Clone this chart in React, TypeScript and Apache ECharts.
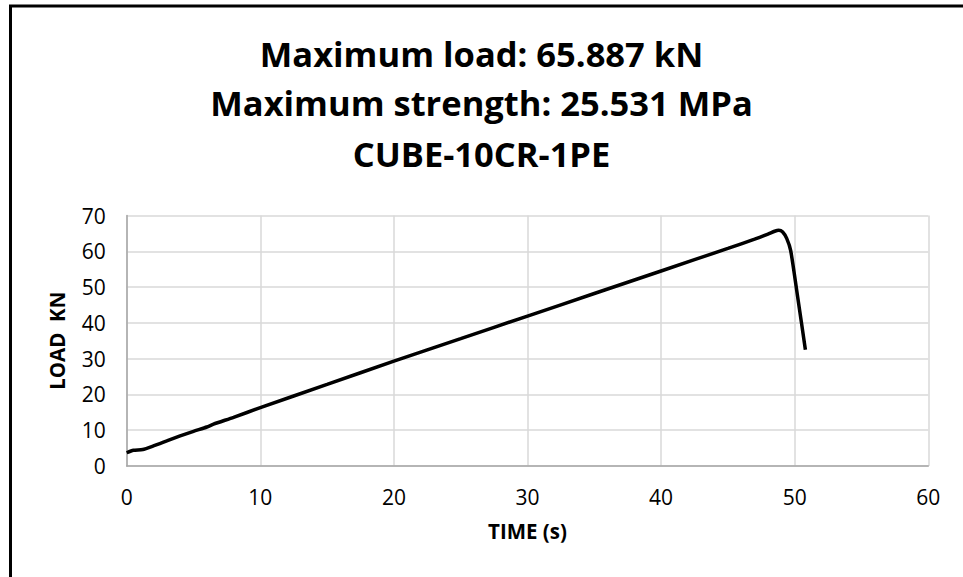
import React, { useEffect, useRef } from "react";
import * as echarts from "echarts";

const titleLines = [
  "Maximum load: 65.887 kN",
  "Maximum strength: 25.531 MPa",
  "CUBE-10CR-1PE",
];
const xAxisName = "TIME (s)";
const yAxisName = "LOAD  KN";

const timeValues = [0, 0.5, 1.2, 2, 3, 4, 5, 6, 6.5, 8, 10, 15, 20, 25, 30, 35, 40, 45, 47, 48, 48.5, 48.8, 49.1, 49.4, 49.7, 50.2, 50.8];
const loadValues = [3.7, 4.4, 4.6, 5.6, 7.0, 8.4, 9.7, 10.9, 11.7, 13.6, 16.3, 22.8, 29.3, 35.6, 41.9, 48.2, 54.5, 60.8, 63.4, 64.8, 65.6, 65.887, 65.4, 63.6, 60.2, 47.8, 32.5];

const FONT = "Open Sans";

export default function App() {
  const ref = useRef<HTMLDivElement>(null);
  useEffect(() => {
    if (!ref.current) return;
    const chart = echarts.init(ref.current, undefined, { renderer: "svg" });
    const titleCenters = [53, 102, 153];
    chart.setOption({
      animation: false,
      backgroundColor: "#ffffff",
      title: titleLines.map((t, i) => ({
        text: t,
        left: "center",
        top: titleCenters[i] - 21,
        padding: 0,
        textStyle: {
          fontFamily: FONT,
          fontWeight: "bold",
          fontSize: 34.5,
          lineHeight: 42,
          color: "#000",
        },
      })),
      graphic: [
        {
          type: "rect",
          shape: { x: 10.5, y: 6, width: 1000, height: 1000 },
          style: { fill: "none", stroke: "#000", lineWidth: 3 },
          silent: true,
        },
      ],
      grid: { left: 126.7, right: 34.7, top: 215.5, bottom: 111, containLabel: false },
      xAxis: {
        type: "value",
        min: 0,
        max: 60,
        interval: 10,
        name: xAxisName,
        nameLocation: "middle",
        nameGap: 54,
        nameTextStyle: { fontFamily: FONT, fontWeight: "bold", fontSize: 20.5, color: "#000" },
        axisLine: { show: true, lineStyle: { color: "#a6a6a6", width: 1.5 } },
        axisTick: { show: false },
        axisLabel: { fontFamily: FONT, fontSize: 21, color: "#000", margin: 20 },
        splitLine: { show: true, lineStyle: { color: "#d9d9d9", width: 1.5 } },
      },
      yAxis: {
        type: "value",
        min: 0,
        max: 70,
        interval: 10,
        name: yAxisName,
        nameLocation: "middle",
        nameRotate: 90,
        nameGap: 59,
        nameTextStyle: { fontFamily: FONT, fontWeight: "bold", fontSize: 20.5, color: "#000" },
        axisLine: { show: true, lineStyle: { color: "#a6a6a6", width: 1.5 } },
        axisTick: { show: false },
        axisLabel: { fontFamily: FONT, fontSize: 21, color: "#000", margin: 21 },
        splitLine: { show: true, lineStyle: { color: "#d9d9d9", width: 1.5 } },
      },
      series: [
        {
          type: "line",
          data: timeValues.map((t, i) => [t, loadValues[i]]),
          showSymbol: false,
          smooth: 0.2,
          lineStyle: { color: "#000", width: 3.5 },
        },
      ],
    });
    return () => chart.dispose();
  }, []);
  return (
    <div
      ref={ref}
      style={{ position: "fixed", left: 0, top: 0, width: 963, height: 577 }}
    />
  );
}
